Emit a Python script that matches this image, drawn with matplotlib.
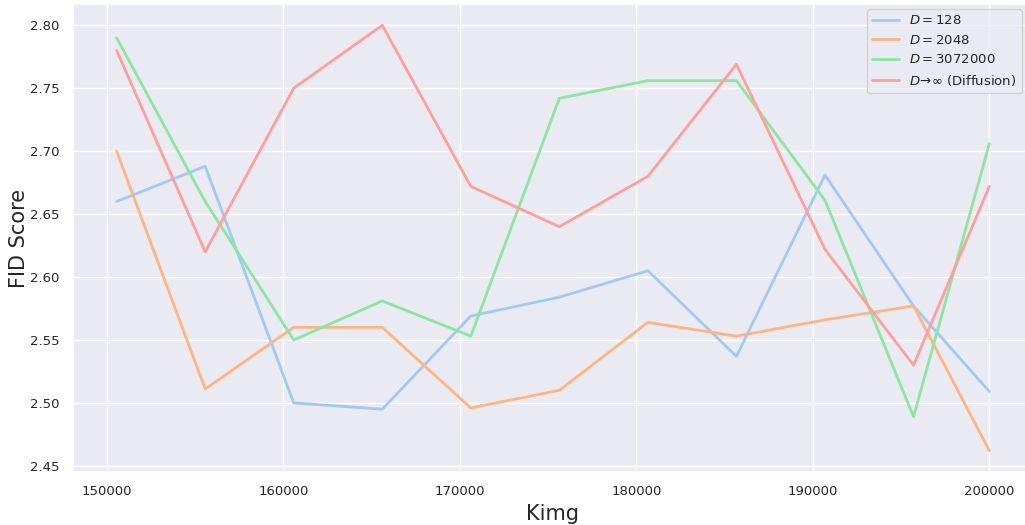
import matplotlib
matplotlib.use("Agg")
import matplotlib.pyplot as plt
import seaborn as sns

kimg = [150550, 155567, 160584, 165601, 170618, 175635, 180652, 185669, 190686, 195703, 200000]
fid_128 = [2.660, 2.688, 2.500, 2.495, 2.569, 2.584, 2.605, 2.537, 2.681, 2.577, 2.509]
fid_2048 = [2.700, 2.511, 2.560, 2.560, 2.496, 2.510, 2.564, 2.553, 2.566, 2.577, 2.462]
fid_3072000 = [2.790, 2.660, 2.550, 2.581, 2.553, 2.742, 2.756, 2.756, 2.661, 2.489, 2.706]
fid_diffusion = [2.780, 2.620, 2.750, 2.800, 2.672, 2.640, 2.680, 2.769, 2.622, 2.530, 2.672]

labels = [r"$D = 128$", r"$D = 2048$", r"$D = 3072000$", r"$D\!\rightarrow\!\infty$ (Diffusion)"]
series = [fid_128, fid_2048, fid_3072000, fid_diffusion]

sns.set_theme(style="darkgrid")
plt.rcParams['font.family'] = ['DejaVu Sans']
colors = sns.color_palette("pastel")

fig = plt.figure(figsize=(10.25, 5.25), dpi=100)
ax = fig.add_axes([73/1025, 1 - 472/525, (1033 - 73)/1025, (472 - 4)/525])
for ys, lab, c in zip(series, labels, colors):
    ax.plot(kimg, ys, color=c, lw=2, label=lab)

ax.set_xlabel("Kimg", fontsize=15)
ax.set_ylabel("FID Score", fontsize=15, labelpad=1)
ax.tick_params(labelsize=9.5)
ax.set_yticks([2.45, 2.50, 2.55, 2.60, 2.65, 2.70, 2.75, 2.80])
ax.set_yticklabels(["2.45", "2.50", "2.55", "2.60", "2.65", "2.70", "2.75", "2.80"])
ax.legend(loc="upper right", fontsize=9.5,
          bbox_to_anchor=(1022/1025, 1 - 9/525), bbox_transform=fig.transFigure,
          borderaxespad=0)

fig.savefig("out.png", dpi=100)
